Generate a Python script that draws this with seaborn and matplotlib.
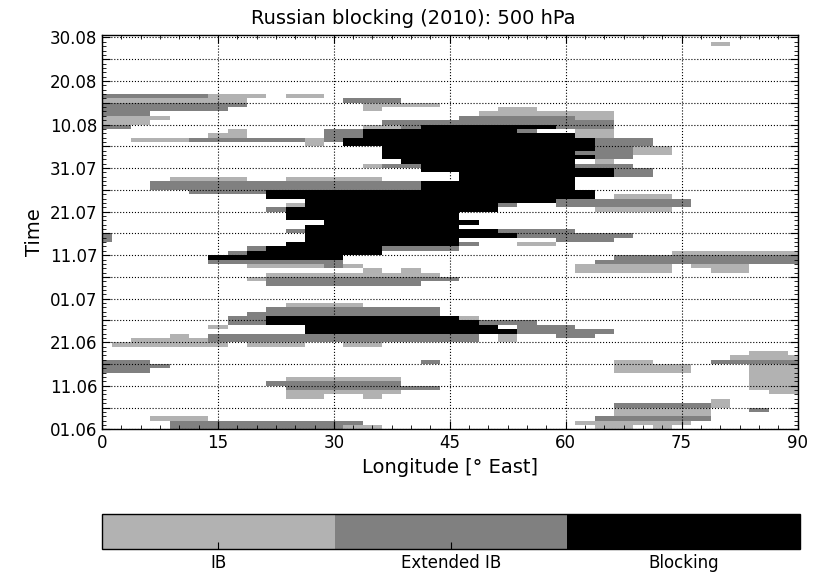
import numpy as np
import pandas as pd
import matplotlib
matplotlib.use("Agg")
import matplotlib.pyplot as plt
from matplotlib.colors import ListedColormap
from matplotlib.ticker import FixedLocator
import seaborn as sns

title = "Russian blocking (2010): 500 hPa"
longitudes = np.arange(0, 92.5, 2.5)          # 2.5° grid, 0–90° E
n_days = 91                                   # 01.06 – 30.08
date_ticks = [0, 10, 20, 30, 40, 50, 60, 70, 80, 90]
date_labels = ["01.06", "11.06", "21.06", "01.07", "11.07",
               "21.07", "31.07", "10.08", "20.08", "30.08"]
category_names = ["IB", "Extended IB", "Blocking"]
category_colors = ["#b2b2b2", "#808080", "#000000"]

# Runs of flagged grid points: (day index from 01.06, first lon, last lon)
ib_runs = [
    (88, 80, 80),
    (76, 15, 20), (76, 25, 27.5),
    (75, 0, 17.5),
    (74, 35, 42.5),
    (73, 35, 35), (73, 52.5, 55),
    (72, 50, 65),
    (71, 0, 7.5), (71, 62.5, 65),
    (70, 0, 5),
    (69, 35, 37.5),
    (68, 17.5, 17.5), (68, 62.5, 65),
    (67, 15, 17.5), (67, 62.5, 65),
    (66, 5, 10), (66, 27.5, 27.5),
    (65, 27.5, 27.5),
    (64, 70, 72.5),
    (63, 70, 72.5),
    (61, 65, 65),
    (60, 35, 35),
    (57, 10, 17.5), (57, 25, 35),
    (53, 67.5, 72.5),
    (51, 25, 25),
    (50, 65, 72.5),
    (42, 55, 57.5),
    (40, 75, 90),
    (37, 20, 27.5), (37, 32.5, 32.5), (37, 62.5, 72.5), (37, 77.5, 82.5),
    (36, 35, 35), (36, 40, 40), (36, 62.5, 72.5), (36, 80, 82.5),
    (35, 22.5, 42.5),
    (34, 20, 20),
    (28, 25, 32.5),
    (25, 47.5, 47.5),
    (23, 15, 15),
    (21, 10, 10), (21, 52.5, 52.5),
    (20, 5, 12.5), (20, 52.5, 52.5),
    (19, 2.5, 15), (19, 20, 25), (19, 32.5, 35),
    (17, 85, 87.5),
    (16, 82.5, 90),
    (15, 67.5, 70),
    (14, 67.5, 75), (14, 85, 90),
    (13, 67.5, 75), (13, 85, 90),
    (12, 85, 90),
    (11, 25, 37.5), (11, 85, 90),
    (10, 85, 90),
    (9, 85, 90),
    (8, 25, 37.5), (8, 87.5, 90),
    (7, 25, 27.5), (7, 35, 35),
    (6, 80, 80),
    (5, 80, 80),
    (4, 67.5, 77.5),
    (3, 67.5, 77.5),
    (2, 7.5, 12.5),
    (1, 62.5, 75),
    (0, 32.5, 35), (0, 65, 67.5), (0, 72.5, 72.5),
]
extended_runs = [
    (76, 0, 12.5),
    (75, 32.5, 37.5),
    (74, 0, 17.5),
    (73, 0, 15),
    (72, 0, 5),
    (71, 47.5, 60),
    (70, 37.5, 65),
    (69, 0, 2.5), (69, 40, 40), (69, 60, 65),
    (68, 30, 32.5), (68, 55, 55),
    (67, 30, 32.5),
    (66, 12.5, 25), (66, 30, 30), (66, 65, 70),
    (65, 65, 70),
    (64, 65, 67.5),
    (63, 62.5, 67.5),
    (62, 65, 67.5),
    (60, 37.5, 40), (60, 62.5, 67.5),
    (59, 67.5, 70),
    (58, 67.5, 70),
    (56, 7.5, 40),
    (55, 7.5, 40),
    (54, 12.5, 20),
    (52, 60, 75),
    (51, 52.5, 52.5), (51, 60, 75),
    (50, 22.5, 22.5),
    (45, 25, 25), (45, 52.5, 60),
    (44, 0, 0), (44, 55, 67.5),
    (43, 0, 0), (43, 60, 65),
    (42, 47.5, 47.5),
    (41, 20, 20), (41, 37.5, 45),
    (40, 17.5, 17.5),
    (39, 67.5, 90),
    (38, 15, 30), (38, 65, 90),
    (37, 30, 30),
    (34, 22.5, 45),
    (33, 22.5, 40),
    (27, 22.5, 42.5),
    (26, 20, 42.5),
    (25, 17.5, 20),
    (24, 17.5, 20), (24, 50, 55),
    (23, 55, 60),
    (22, 55, 65),
    (21, 15, 47.5), (21, 60, 62.5),
    (20, 15, 47.5),
    (15, 0, 5), (15, 42.5, 42.5), (15, 80, 90),
    (14, 0, 7.5),
    (13, 0, 5),
    (10, 22.5, 37.5),
    (9, 25, 42.5),
    (5, 67.5, 77.5),
    (4, 85, 85),
    (2, 65, 77.5),
    (1, 10, 32.5),
    (0, 10, 30),
]
blocking_runs = [
    (69, 42.5, 57.5),
    (68, 35, 52.5),
    (67, 35, 60),
    (66, 32.5, 62.5),
    (65, 32.5, 62.5),
    (64, 37.5, 62.5),
    (63, 37.5, 60),
    (62, 37.5, 62.5),
    (61, 40, 60),
    (60, 42.5, 60),
    (59, 42.5, 65),
    (58, 47.5, 65),
    (57, 47.5, 60),
    (56, 42.5, 60),
    (55, 42.5, 60),
    (54, 22.5, 62.5),
    (53, 22.5, 62.5),
    (52, 27.5, 57.5),
    (51, 27.5, 50),
    (50, 25, 50),
    (49, 25, 45),
    (48, 25, 45),
    (47, 30, 47.5),
    (46, 27.5, 45),
    (45, 27.5, 50),
    (44, 27.5, 52.5),
    (43, 27.5, 45),
    (42, 25, 45),
    (41, 22.5, 35),
    (40, 20, 35),
    (39, 15, 30),
    (25, 22.5, 45),
    (24, 22.5, 47.5),
    (23, 27.5, 50),
    (22, 27.5, 52.5),
]

# Assemble the day x longitude category field
field = np.zeros((n_days, len(longitudes)), dtype=int)
for code, runs in ((1, ib_runs), (2, extended_runs), (3, blocking_runs)):
    for day, lon0, lon1 in runs:
        sel = (longitudes >= lon0 - 0.01) & (longitudes <= lon1 + 0.01)
        field[day, sel] = code
df = pd.DataFrame(field, index=np.arange(n_days), columns=longitudes)

plt.rcParams["font.family"] = ["DejaVu Sans"]
fig = plt.figure(figsize=(8.27, 5.74), dpi=100)
W, H = 827.0, 574.0
ax = fig.add_axes([102 / W, 1 - 429.3 / H, 695.5 / W, (429.3 - 35.3) / H])
cax = fig.add_axes([102 / W, 1 - 549 / H, 698 / W, 35 / H])

sns.heatmap(df, ax=ax, cbar_ax=cax, mask=(df == 0),
            cmap=ListedColormap(category_colors), vmin=0.5, vmax=3.5,
            xticklabels=False, yticklabels=False,
            cbar_kws={"orientation": "horizontal", "ticks": [1, 2, 3]})

# heatmap cells sit on integer units: column j is centred on j + 0.5
def lon_pos(lon):
    return np.asarray(lon) / 2.5 + 0.5

ax.set_xlim(lon_pos(0), lon_pos(90))
ax.set_ylim(0, 90.5)

xmaj = np.arange(0, 91, 15)
ax.xaxis.set_major_locator(FixedLocator(lon_pos(xmaj)))
ax.xaxis.set_minor_locator(FixedLocator(lon_pos(np.arange(0, 90.1, 2.5))))
ax.set_xticklabels([str(v) for v in xmaj])

ymaj = np.arange(0, 91, 5)
ax.yaxis.set_major_locator(FixedLocator(ymaj))
ax.yaxis.set_minor_locator(FixedLocator(np.arange(0, 91, 1)))
ax.set_yticklabels([date_labels[date_ticks.index(v)] if v in date_ticks else ""
                    for v in ymaj], rotation=0)

ax.tick_params(which="both", direction="in", top=True, right=True,
               labelsize=12, colors="black")
ax.tick_params(which="major", length=6, width=0.8)
ax.tick_params(which="minor", length=3, width=0.6)
ax.set_axisbelow(False)
ax.grid(True, which="major", color="black", linestyle=":", linewidth=0.8)
for s in ax.spines.values():
    s.set_visible(True)
    s.set_linewidth(1.0)
    s.set_color("black")

ax.set_xlabel("Longitude [° East]", fontsize=14)
ax.set_ylabel("Time", fontsize=14)
fig.suptitle(title, fontsize=14, x=0.5, y=1 - 18 / H, va="center")

cb = ax.collections[0].colorbar
cb.set_ticks([1, 2, 3])
cb.set_ticklabels(category_names)
cb.outline.set_visible(True)
cb.outline.set_linewidth(1.0)
cb.outline.set_edgecolor("black")
cax.tick_params(direction="in", length=5, labelsize=12, bottom=True, top=False)

fig.savefig("out.png", dpi=100, facecolor="white")
